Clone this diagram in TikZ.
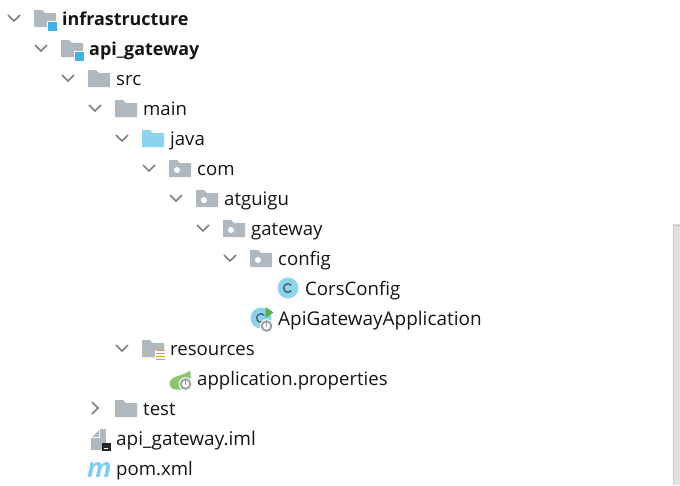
\documentclass[tikz,border=0pt]{standalone}
\usepackage{fontspec}
\setmainfont{Open Sans}
\definecolor{fold}{HTML}{AFB8BF}
\definecolor{srcblue}{HTML}{8DD3EE}
\definecolor{modblue}{HTML}{3FB4E3}
\definecolor{chev}{HTML}{7F7F7F}
\definecolor{clsC}{HTML}{4A5A66}
\definecolor{barc}{HTML}{E1E1E1}
\definecolor{resor}{HTML}{E0A030}
\definecolor{leaf}{HTML}{8CC470}
\definecolor{runG}{HTML}{4FB34A}
\definecolor{gearc}{HTML}{9AA3AA}
\tikzset{
  x=1pt,y=-1pt,
  lab/.style={anchor=base west,inner sep=0pt,font=\fontsize{18.6}{22}\selectfont,text=black!92},
  blab/.style={lab,font=\fontsize{17.9}{22}\selectfont\bfseries},
  wlab/.style={lab,font=\fontsize{18.95}{22}\selectfont},
  chv/.style={draw=chev,line width=1.5pt,line cap=butt,line join=miter},
}
\newcommand{\fldr}[3][fold]{\fill[#1] (#2,#3-8) -- (#2+8,#3-8) -- (#2+11,#3-5) -- (#2+22,#3-5) -- (#2+22,#3+9) -- (#2,#3+9) -- cycle;}
\newcommand{\pkg}[2]{\fldr{#1}{#2}\fill[white] (#1+8,#2+2) circle (3);}
\newcommand{\modf}[2]{\fldr{#1}{#2}\fill[white] (#1+12.5,#2+3) rectangle (#1+24,#2+14);\fill[modblue] (#1+14,#2+4) rectangle (#1+23,#2+13);}
\newcommand{\cdown}[2]{\draw[chv] (#1-6,#2-3) -- (#1,#2+3) -- (#1+6,#2-3);}
\newcommand{\cright}[2]{\draw[chv] (#1-3,#2-6) -- (#1+3,#2) -- (#1-3,#2+6);}
\newcommand{\cls}[2]{\fill[srcblue] (#1,#2) circle (10.5);\draw[clsC,line width=1.4pt] (#1+3.2,#2-2.8) arc[start angle=40,end angle=320,radius=4.3pt];}
\newcommand{\gear}[2]{\fill[white] (#1,#2) circle (6.8);\draw[gearc,line width=2pt] (#1,#2) circle (4.8);\fill[gearc] (#1-.7,#2-3.6) rectangle (#1+.7,#2+.6);}
\begin{document}
\begin{tikzpicture}
\useasboundingbox (0,0) rectangle (680,485);
\fill[white] (0,0) rectangle (680,485);
\fill[barc] (673,224) rectangle (680,485);
\fill[black!20] (673,224) rectangle (674,485);
\fill[black!25] (675,225) rectangle (680,226);
% chevrons
\cdown{14}{18}\cdown{41}{48}\cdown{68}{78}\cdown{95}{108}\cdown{122}{138}\cdown{149}{168}\cdown{176}{198}\cdown{203}{228}\cdown{230}{258}\cdown{122}{348}\cright{95}{408}
% folders
\modf{34}{18}\modf{61}{48}
\fldr{88}{78}\fldr{115}{108}\fldr[srcblue]{142}{138}
\pkg{169}{168}\pkg{196}{198}\pkg{223}{228}\pkg{250}{258}
\fldr{115}{408}
% resources
\fldr{142}{348}
\fill[white] (155,350) rectangle (166,362);
\foreach \yy in {349.5,352.5,355.5,358.5}{\fill[resor] (156,\yy) rectangle (165,\yy+1.7);}
% classes
\cls{288}{288}
\cls{261}{318}
\gear{266.5}{326}
\fill[runG] (265.5,307) -- (273.5,312.5) -- (265.5,318) -- cycle;
% spring leaf
\fill[leaf] (169.5,384) .. controls (170,375) and (182,377) .. (190,370.5) .. controls (192,378) and (190,386) .. (184,389.5) -- (176,389.5) .. controls (172,389.5) and (169.5,387) .. (169.5,384) -- cycle;
\gear{185.5}{384}
% iml file
\fill[fold] (92,437) -- (99,430) -- (99,437) -- cycle;
\fill[fold] (100,429) -- (106,429) -- (106,438) -- (100,438) -- cycle;
\fill[fold] (91,438) rectangle (106,450);
\fill[black!85] (102,443) rectangle (111,451);
\fill[white] (104,448) rectangle (108,449);
% pom m
\node[anchor=base west,inner sep=0pt,text=srcblue!85!modblue,font=\fontsize{27}{27}\selectfont\bfseries\itshape] (pomicon) at (87,477) {m};
% labels
\node[blab] (n1) at (62,25) {infrastructure};
\node[blab] (n2) at (89,55) {api\_gateway};
\node[lab] (n3) at (116,85) {src};
\node[lab] (n4) at (143,115) {main};
\node[lab] (n5) at (170,145) {java};
\node[lab] (n6) at (197,175) {com};
\node[lab] (n7) at (224,205) {atguigu};
\node[lab] (n8) at (251,235) {gateway};
\node[lab] (n9) at (278,265) {config};
\node[lab] (n10) at (305,295) {CorsConfig};
\node[wlab] (n11) at (278,325) {ApiGatewayApplication};
\node[lab] (n12) at (170,355) {resources};
\node[lab] (n13) at (197,385) {application.properties};
\node[lab] (n14) at (143,415) {test};
\node[wlab] (n15) at (116,445) {api\_gateway.iml};
\node[lab] (n16) at (116,475) {pom.xml};
\end{tikzpicture}
\end{document}
